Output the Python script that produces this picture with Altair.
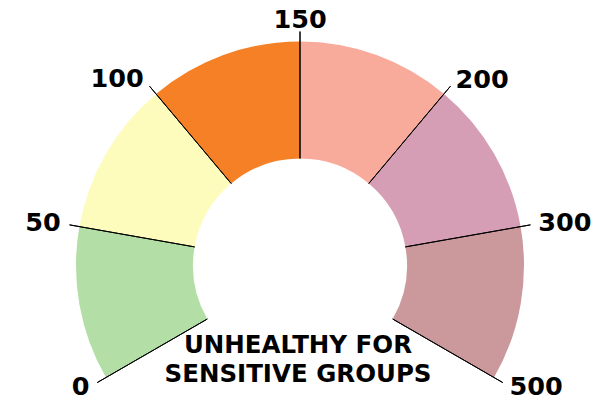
import math
import altair as alt
import pandas as pd

# ---- data ----
tick_labels = ["0", "50", "100", "150", "200", "300", "500"]
tick_pos = [0, 1, 2, 3, 4, 5, 6]
categories = ["Good", "Moderate", "Unhealthy for Sensitive Groups",
              "Unhealthy", "Very Unhealthy", "Hazardous"]
seg_start = [0, 1, 2, 3, 4, 5]
seg_end = [1, 2, 3, 4, 5, 6]
colors = ["#b3dfa6", "#fdfcbd", "#f58025", "#f9ab9b", "#d59eb5", "#cb999c"]
current_label = ["UNHEALTHY FOR", "SENSITIVE GROUPS"]

seg = pd.DataFrame({"category": categories, "start": seg_start, "end": seg_end})
ticks = pd.DataFrame({"label": tick_labels, "pos": tick_pos})

span = 2 * math.pi / 3
theta_scale = alt.Scale(domain=[0, 6], range=[-span, span])
CX, CY = 300, 265.5
FONT = "DejaVu Sans"

arcs = alt.Chart(seg).mark_arc(radius=224, radius2=107).encode(
    theta=alt.Theta("start:Q", scale=theta_scale),
    theta2="end:Q",
    color=alt.Color("category:N",
                    scale=alt.Scale(domain=categories, range=colors),
                    legend=None),
    x=alt.value(CX), y=alt.value(CY),
)

tick_lines = alt.Chart(ticks).mark_arc(
    radius=234, radius2=107, stroke="black", strokeWidth=1, fillOpacity=0
).encode(
    theta=alt.Theta("pos:Q", scale=theta_scale),
    theta2="pos:Q",
    x=alt.value(CX), y=alt.value(CY),
)

def labels(cond, align, baseline, r):
    return alt.Chart(ticks).transform_filter(cond).mark_text(
        font=FONT, fontWeight="bold", fontSize=25.5, color="black",
        align=align, baseline=baseline, radius=r
    ).encode(
        theta=alt.Theta("pos:Q", scale=theta_scale),
        text="label:N",
        x=alt.value(CX), y=alt.value(CY),
    )

left = labels("datum.pos < 3", "right", "middle", 243)
top = labels("datum.pos == 3", "center", "alphabetic", 238)
right = labels("datum.pos > 3", "left", "middle", 242)

center_text = alt.Chart(pd.DataFrame({"t": [0]})).mark_text(
    font=FONT, fontWeight="bold", fontSize=24.5, color="black",
    align="center", baseline="alphabetic", lineHeight=29
).encode(
    text=alt.value(current_label),
    x=alt.value(298), y=alt.value(353),
)

chart = alt.layer(arcs, tick_lines, left, top, right, center_text).properties(
    width=600, height=400, padding=0, autosize="none"
).configure_view(stroke=None)

chart.save("out.html", embed_options={"renderer": "svg", "actions": False})
